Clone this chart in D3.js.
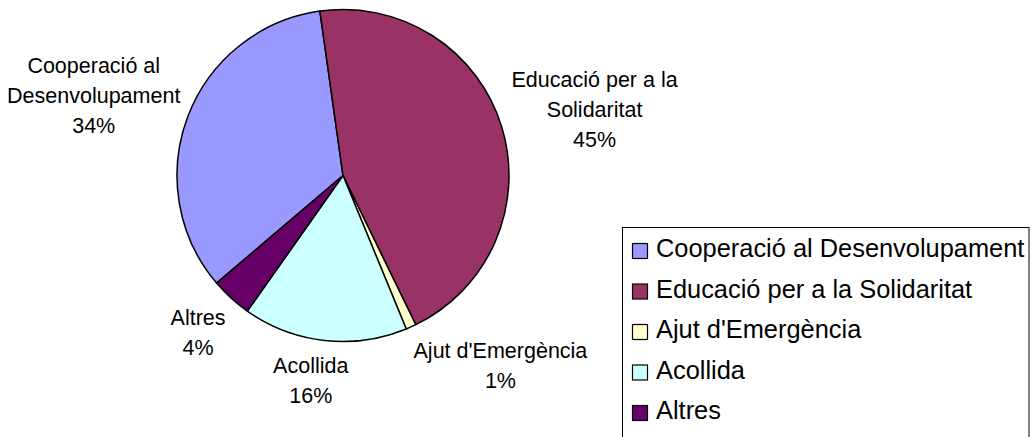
<!DOCTYPE html>
<html>
<head>
<meta charset="utf-8">
<script src="https://cdn.jsdelivr.net/npm/d3@7"></script>
<style>
  body { margin: 0; background: #fff; }
  svg text { font-family: "Liberation Sans", Arial, sans-serif; fill: #000; }
</style>
</head>
<body>
<svg id="chart"></svg>
<script>
// Data
const categories = ["Cooperació al Desenvolupament", "Educació per a la Solidaritat", "Ajut d'Emergència", "Acollida", "Altres"];
const values = [34, 45, 1, 16, 4];
// label lines shown next to the pie
const labelLines = [
  ["Cooperació al", "Desenvolupament"],
  ["Educació per a la", "Solidaritat"],
  ["Ajut d'Emergència"],
  ["Acollida"],
  ["Altres"]
];
const colors = ["#9999FF", "#993366", "#FFFFCC", "#CCFFFF", "#660066"];

// Constants
const width = 1034;
const height = 437;
const cx = 343, cy = 175.5, radius = 166;
const labelRadius = 180;
const lineHeight = 30;
// small layout nudges (Ajut label is pushed aside like Excel does)
const labelNudge = [[0, 0], [0, 0], [48, -2], [-8, -4], [-5, 2]];

const svg = d3.select('#chart')
  .attr('width', width)
  .attr('height', height);

const data = categories.map((c, i) => ({ name: c, value: values[i], lines: labelLines[i], color: colors[i], i: i }));
const total = d3.sum(values);

const pie = d3.pie()
  .sort(null)
  .value(d => d.value)
  .startAngle(-130.4 * Math.PI / 180)
  .endAngle((360 - 130.4) * Math.PI / 180);

const arc = d3.arc().innerRadius(0).outerRadius(radius);

const g = svg.append('g').attr('transform', `translate(${cx},${cy})`);

const arcs = pie(data);

g.selectAll('path')
  .data(arcs)
  .enter()
  .append('path')
  .attr('d', arc)
  .attr('fill', d => d.data.color)
  .attr('stroke', '#000')
  .attr('stroke-width', 1.5)
  .attr('stroke-linejoin', 'round');

// Labels
const pct = d3.format('.0%');

arcs.forEach(d => {
  const mid = (d.startAngle + d.endAngle) / 2;
  const dx = Math.sin(mid), dy = -Math.cos(mid);
  const lines = d.data.lines.concat([pct(d.data.value / total)]);

  const t = g.append('text')
    .attr('text-anchor', 'middle')
    .attr('font-size', '21.5px');
  lines.forEach((l, k) => t.append('tspan').attr('x', 0).attr('dy', k === 0 ? 0 : lineHeight).text(l));

  const w = t.node().getBBox().width;
  const h = lines.length * lineHeight;
  const bx = labelRadius * dx + dx * w / 2 + labelNudge[d.data.i][0];
  const by = labelRadius * dy + dy * h / 2 + labelNudge[d.data.i][1];
  // first baseline so the block is centered on (bx, by)
  const y0 = by - (lines.length - 1) * lineHeight / 2 + 7.7;
  t.attr('transform', `translate(${bx},${y0})`);
});

// Legend
const legendX = 622.5, legendY = 227.5;
const rowGap = 40.5;

svg.append('rect')
  .attr('x', legendX)
  .attr('y', legendY)
  .attr('width', 1029 - legendX)
  .attr('height', 230)
  .attr('fill', '#fff')
  .attr('stroke', '#000')
  .attr('stroke-width', 1);

const legend = svg.selectAll('.legend-item')
  .data(data)
  .enter()
  .append('g')
  .attr('class', 'legend-item')
  .attr('transform', (d, i) => `translate(0,${257 + i * rowGap})`);

legend.append('rect')
  .attr('x', 632.5)
  .attr('y', -13.5)
  .attr('width', 15)
  .attr('height', 15)
  .attr('fill', d => d.color)
  .attr('stroke', '#000')
  .attr('stroke-width', 1.2);

legend.append('text')
  .attr('x', 656)
  .attr('y', 0)
  .attr('font-size', '25.4px')
  .text(d => d.name);
</script>
</body>
</html>
